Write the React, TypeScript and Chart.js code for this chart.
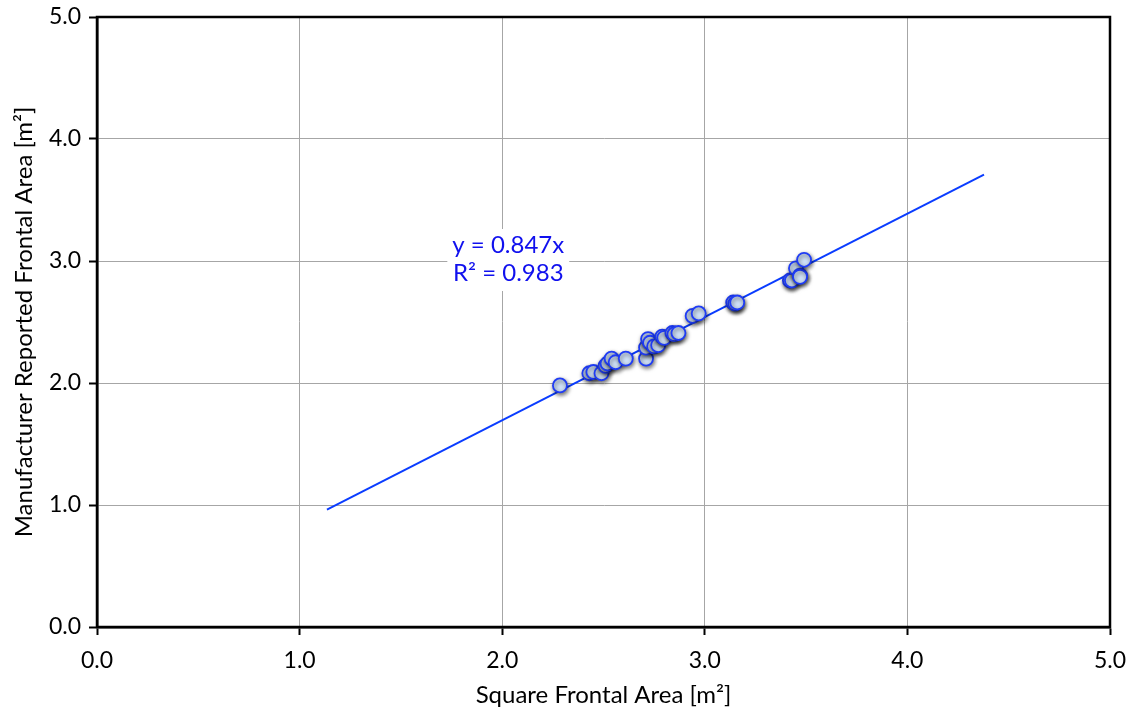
import React, { useEffect, useRef } from "react";
import { Chart, registerables } from "chart.js";

Chart.register(...registerables);

const squareArea: number[] = [
  2.285, 2.43, 2.45, 2.49, 2.51, 2.52, 2.54, 2.56, 2.61, 2.71, 2.71, 2.72, 2.73, 2.75, 2.77,
  2.79, 2.80, 2.84, 2.85, 2.87, 2.94, 2.97, 3.14, 3.15, 3.16, 3.42, 3.43, 3.45, 3.47, 3.47, 3.49,
];
const reportedArea: number[] = [
  1.98, 2.08, 2.09, 2.08, 2.14, 2.16, 2.20, 2.17, 2.20, 2.20, 2.29, 2.36, 2.33, 2.30, 2.31,
  2.38, 2.37, 2.41, 2.40, 2.41, 2.55, 2.57, 2.66, 2.65, 2.66, 2.84, 2.84, 2.94, 2.88, 2.87, 3.01,
];
const slope = 0.847;
const trendX: number[] = [1.135, 4.378];
const equationLines: string[] = ["y = 0.847x", "R² = 0.983"];
const axisTicks: number[] = [0, 1, 2, 3, 4, 5];
const xTitle = "Square Frontal Area [m²]";
const yTitle = "Manufacturer Reported Frontal Area [m²]";

const FONT = "Lato, 'Open Sans', sans-serif";

export default function App() {
  const ref = useRef<HTMLCanvasElement | null>(null);

  useEffect(() => {
    if (!ref.current) return;
    const points = squareArea.map((x, i) => ({ x, y: reportedArea[i] }));
    const trend = trendX.map((x) => ({ x, y: slope * x }));

    const framePlugin = {
      id: "frame",
      afterDatasetsDraw(chart: any) {
        const { ctx, chartArea } = chart;
        const xs = chart.scales.x;
        const ys = chart.scales.y;
        const cx = xs.getPixelForValue(2.03);
        const cy = ys.getPixelForValue(3.0);
        ctx.save();
        ctx.font = `24px ${FONT}`;
        const w = Math.max(...equationLines.map((t) => ctx.measureText(t).width)) + 10;
        ctx.fillStyle = "#ffffff";
        ctx.fillRect(cx - w / 2, cy - 32, w, 62);
        ctx.fillStyle = "#1010ee";
        ctx.textAlign = "center";
        ctx.textBaseline = "middle";
        ctx.fillText(equationLines[0], cx, cy - 16);
        ctx.fillText(equationLines[1], cx, cy + 12);
        ctx.restore();
        ctx.save();
        ctx.strokeStyle = "#000000";
        ctx.lineWidth = 2.5;
        ctx.strokeRect(
          chartArea.left,
          chartArea.top,
          chartArea.right - chartArea.left,
          chartArea.bottom - chartArea.top
        );
        ctx.restore();
      },
    };

    const shadowPlugin = {
      id: "shadow",
      beforeDatasetDraw(chart: any, args: any) {
        if (args.index === 1) {
          const ctx = chart.ctx;
          ctx.save();
          ctx.shadowColor = "rgba(0,0,0,0.55)";
          ctx.shadowBlur = 4;
          ctx.shadowOffsetX = 1;
          ctx.shadowOffsetY = 2;
        }
      },
      afterDatasetDraw(chart: any, args: any) {
        if (args.index === 1) chart.ctx.restore();
      },
    };

    const chart = new Chart(ref.current, {
      type: "scatter",
      data: {
        datasets: [
          {
            type: "line",
            label: "trend",
            data: trend,
            borderColor: "#0a3cff",
            borderWidth: 2,
            pointRadius: 0,
            fill: false,
            order: 2,
          } as any,
          {
            label: "data",
            data: points,
            backgroundColor: "#cfe0f7",
            borderColor: "#1f3cf5",
            borderWidth: 1.8,
            pointRadius: 7,
            order: 1,
          },
        ],
      },
      options: {
        animation: false,
        responsive: false,
        layout: { padding: { left: 0, top: 17, right: 25, bottom: 0 } },
        plugins: { legend: { display: false }, tooltip: { enabled: false } },
        scales: {
          x: {
            type: "linear",
            min: 0,
            max: 5,
            afterBuildTicks: (s: any) => {
              s.ticks = axisTicks.map((v) => ({ value: v }));
            },
            afterFit: (s: any) => {
              s.height = 90;
              s.paddingLeft = 0;
              s.paddingRight = 0;
            },
            grid: {
              color: "#a6a6a6",
              lineWidth: 1,
              tickColor: "#000000",
              tickWidth: 2,
              tickLength: 8,
            },
            border: { color: "#000000", width: 2.5 },
            ticks: {
              color: "#000000",
              font: { family: FONT, size: 23 },
              padding: 12,
              callback: (v: any) => Number(v).toFixed(1),
            },
            title: {
              display: true,
              text: xTitle,
              color: "#000000",
              font: { family: FONT, size: 24 },
              padding: { top: 0, bottom: 7 },
            },
          },
          y: {
            type: "linear",
            min: 0,
            max: 5,
            afterBuildTicks: (s: any) => {
              s.ticks = axisTicks.map((v) => ({ value: v }));
            },
            afterFit: (s: any) => {
              s.width = 97;
              s.paddingTop = 0;
              s.paddingBottom = 0;
            },
            grid: {
              color: "#a6a6a6",
              lineWidth: 1,
              tickColor: "#000000",
              tickWidth: 2,
              tickLength: 8,
            },
            border: { color: "#000000", width: 2.5 },
            ticks: {
              color: "#000000",
              font: { family: FONT, size: 23 },
              padding: 8,
              callback: (v: any) => Number(v).toFixed(1),
            },
            title: {
              display: true,
              text: yTitle,
              color: "#000000",
              font: { family: FONT, size: 24 },
              padding: { top: 10, bottom: 0 },
            },
          },
        },
      },
      plugins: [shadowPlugin, framePlugin],
    });
    return () => chart.destroy();
  }, []);

  return (
    <div style={{ position: "fixed", left: 0, top: 0, width: 1135, height: 717, background: "#fff" }}>
      <canvas ref={ref} width={1135} height={717} style={{ width: 1135, height: 717 }} />
    </div>
  );
}
